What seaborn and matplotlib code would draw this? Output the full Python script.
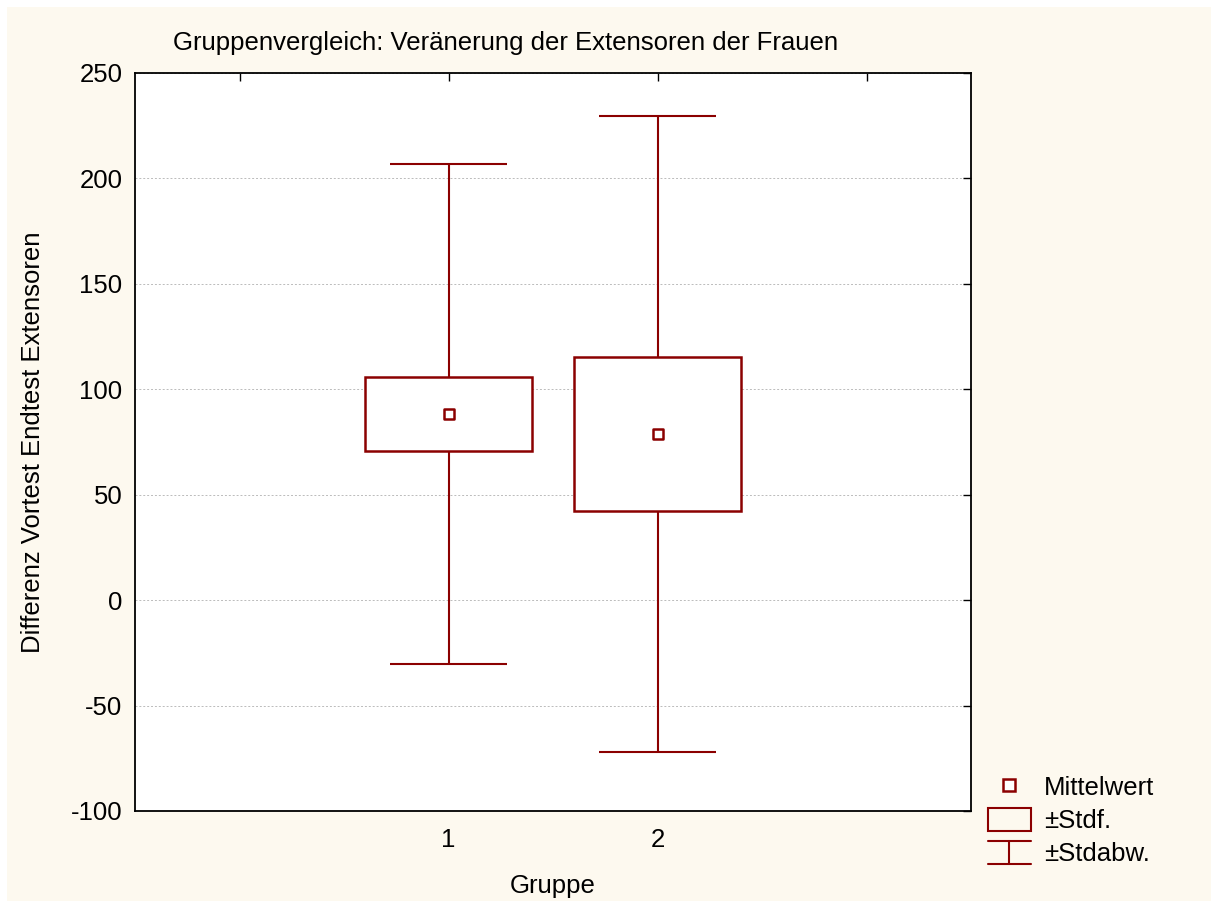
import numpy as np
import pandas as pd
import seaborn as sns
import matplotlib.pyplot as plt
from matplotlib.patches import Rectangle
from matplotlib.lines import Line2D
from matplotlib.legend_handler import HandlerBase

# Data
groups = ["1", "2"]
means = [88.3, 78.8]
std_err = [17.5, 36.6]
std_dev = [118.7, 150.8]

df = pd.DataFrame({"Gruppe": groups, "Mittelwert": means, "Stdf": std_err, "Stdabw": std_dev})
df["pos"] = np.arange(1, len(df) + 1)

sns.set_style("white")
plt.rcParams["font.family"] = ["Liberation Sans", "DejaVu Sans"]
plt.rcParams["axes.unicode_minus"] = False
plt.rcParams["text.color"] = "black"
plt.rcParams["axes.labelcolor"] = "black"
color = "#8b0000"
fs = 18.5

fig = plt.figure(figsize=(12.18, 9.08), dpi=100, facecolor="white")
fig.patches.append(Rectangle((7 / 1218, 7 / 908), 1 - 14 / 1218, 1 - 14 / 908,
                             transform=fig.transFigure, facecolor="#fdf9ef",
                             edgecolor="none", zorder=-10))
ax = fig.add_axes([135 / 1218, 1 - 811 / 908, 836 / 1218, 738 / 908])
ax.set_facecolor("white")

# +-SD whiskers
lo_sd = df["Mittelwert"] - df["Stdabw"]
hi_sd = df["Mittelwert"] + df["Stdabw"]
lo_se = df["Mittelwert"] - df["Stdf"]
hi_se = df["Mittelwert"] + df["Stdf"]
ax.vlines(df["pos"], hi_se, hi_sd, color=color, lw=1.5, zorder=3)
ax.vlines(df["pos"], lo_sd, lo_se, color=color, lw=1.5, zorder=3)
ax.hlines(hi_sd, df["pos"] - 0.28, df["pos"] + 0.28, color=color, lw=1.5, zorder=3)
ax.hlines(lo_sd, df["pos"] - 0.28, df["pos"] + 0.28, color=color, lw=1.5, zorder=3)

# +-SE boxes
ax.bar(df["pos"], 2 * df["Stdf"], bottom=lo_se, width=0.8, facecolor="white",
       edgecolor=color, lw=1.8, zorder=3)

# means
sns.scatterplot(data=df, x="pos", y="Mittelwert", marker="s", s=55, color="white",
                edgecolor=color, linewidth=1.8, zorder=4, ax=ax, legend=False)

ax.set_xlim(-0.5, 3.5)
ax.set_ylim(-100, 250)
ax.set_xticks([0, 1, 2, 3])
ax.set_xticklabels([""] + groups + [""])
ax.set_yticks(np.arange(-100, 251, 50))
ax.yaxis.grid(True, linestyle=(0, (2, 2)), color="#bbbbbb", lw=0.7)
ax.set_axisbelow(True)
ax.tick_params(direction="in", length=6, width=1, top=True, right=True,
               labelsize=fs, colors="black")
ax.tick_params(axis="x", pad=12)
ax.tick_params(axis="y", pad=9)
for s in ax.spines.values():
    s.set_visible(True)
    s.set_color("black")
    s.set_linewidth(1.3)

ax.set_xlabel("Gruppe", fontsize=fs)
ax.set_ylabel("Differenz Vortest Endtest Extensoren", fontsize=fs)
ax.xaxis.set_label_coords(0.5, -(886 - 811) / 738)
ax.xaxis.label.set_va("center")
ax.yaxis.set_label_coords(-(135 - 33) / 836, 0.5)
ax.yaxis.label.set_va("center")
fig.text(506 / 1218, 1 - 43 / 908, "Gruppenvergleich: Veränerung der Extensoren der Frauen",
         ha="center", va="center", fontsize=fs)


class WhiskerHandler(HandlerBase):
    def create_artists(self, legend, orig_handle, xdescent, ydescent, width, height, fontsize, trans):
        cx = width / 2 - xdescent
        y0, y1 = -ydescent, height - ydescent
        lines = [Line2D([-xdescent, width - xdescent], [y0, y0]),
                 Line2D([-xdescent, width - xdescent], [y1, y1]),
                 Line2D([cx, cx], [y0, y1])]
        for ln in lines:
            ln.set_color(color)
            ln.set_linewidth(1.5)
            ln.set_transform(trans)
        return lines


handles = [Line2D([], [], marker="s", ls="none", markersize=8, markerfacecolor="white",
                  markeredgecolor=color, markeredgewidth=1.8),
           Rectangle((0, 0), 1, 1, facecolor="none", edgecolor=color, lw=1.5),
           "sd"]
labels = ["Mittelwert", "±Stdf.", "±Stdabw."]
fig.legend(handles, labels, handler_map={str: WhiskerHandler()},
           loc="upper left", bbox_to_anchor=(985 / 1218, 1 - 772 / 908),
           frameon=False, fontsize=fs, handlelength=1.7, handleheight=1.0,
           labelspacing=0.3, handletextpad=0.5, borderpad=0.1, borderaxespad=0)

fig.savefig("out.png", dpi=100, facecolor=fig.get_facecolor())
